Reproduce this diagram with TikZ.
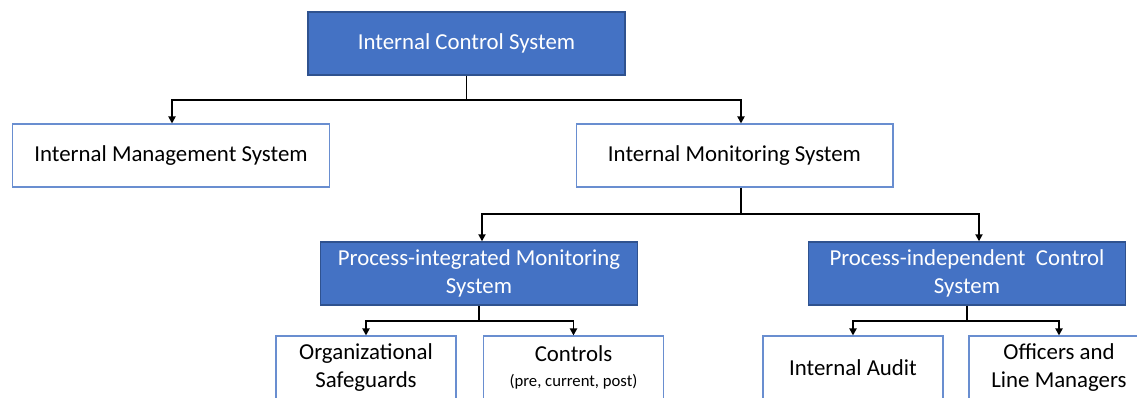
\documentclass[tikz,border=0pt]{standalone}
\usepackage{fontspec}
\setmainfont{Carlito}
\usepackage{tikz}
\usetikzlibrary{arrows.meta,positioning}
\definecolor{boxblue}{HTML}{4472C4}
\definecolor{edgeblue}{HTML}{2F528F}

\begin{document}
\begin{tikzpicture}[x=0.02cm, y=-0.02cm,
    blue/.style={rectangle, draw=edgeblue, fill=boxblue, text=white, line width=0.8pt,
        minimum width=6.34cm, minimum height=1.26cm, align=center, font=\fontsize{13}{15.5}\selectfont},
    plain/.style={rectangle, draw=boxblue!80, fill=white, line width=0.6pt,
        minimum width=6.34cm, minimum height=1.26cm, align=center, font=\fontsize{13}{15.5}\selectfont},
    leaf/.style={plain, minimum width=3.6cm, font=\fontsize{13}{16}\selectfont},
    arrow/.style={-{Triangle[length=4pt,width=4pt]}, line width=1.1pt}]

    \useasboundingbox (0,0) rectangle (1137,397);

    \node[blue] (ics) at (466.5,43.5) {Internal Control System};
    \node[plain] (mgmt) at (171,155.5) {Internal Management System};
    \node[plain] (mon) at (734.5,155.5) {Internal Monitoring System};
    \node[blue] (integ) at (479,273.5) {Process-integrated Monitoring\\System};
    \node[blue] (indep) at (967,273.5) {Process-independent~ Control\\System};
    \node[leaf] (safe) at (366,367.5) {Organizational\\Safeguards};
    \node[leaf] (ctrl) at (573.5,367.5) {Controls\\[-2pt]{\fontsize{9.5}{11}\selectfont (pre, current, post)}};
    \node[leaf] (audit) at (853,367.5) {Internal Audit};
    \node[leaf] (line) at (1059,367.5) {Officers and\\Line Managers};

    % junctions
    \coordinate (j1) at (466.5,100);
    \coordinate (j2) at (741,214);
    \coordinate (j3) at (479,321);
    \coordinate (j4) at (967,321);

    \draw[line width=1.1pt] (ics.south) -- (j1);
    \draw[arrow] (j1) -| (mgmt.north -| 172,0);
    \draw[arrow] (j1) -| (mon.north -| 741,0);

    \draw[line width=1.1pt] (mon.south -| j2) -- (j2);
    \draw[arrow] (j2) -| (integ.north -| 482,0);
    \draw[arrow] (j2) -| (indep.north -| 979,0);

    \draw[line width=1.1pt] (integ.south) -- (j3);
    \draw[arrow] (j3) -| (safe.north);
    \draw[arrow] (j3) -| (ctrl.north);

    \draw[line width=1.1pt] (indep.south) -- (j4);
    \draw[arrow] (j4) -| (audit.north);
    \draw[arrow] (j4) -| (line.north);
\end{tikzpicture}
\end{document}
